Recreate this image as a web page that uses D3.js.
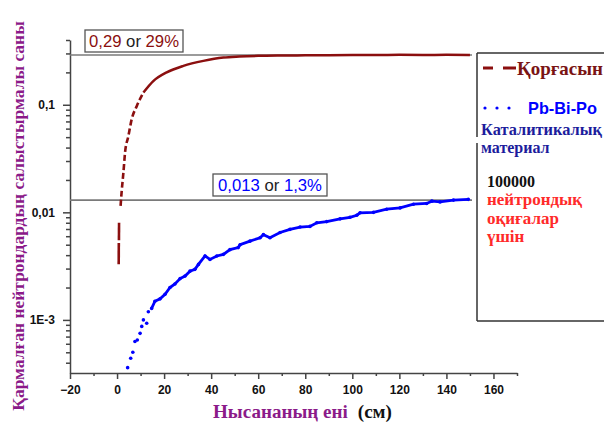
<!DOCTYPE html>
<html>
<head>
<meta charset="utf-8">
<script src="https://cdn.jsdelivr.net/npm/d3@7"></script>
<style>
    body { margin: 0; background: #fff; }
    svg { display: block; }
    .axis path, .axis line { stroke: #444; stroke-width: 1.5; }
    .axis text { font-family: Arial, "Liberation Sans", sans-serif; font-weight: bold; font-size: 12px; fill: #111; }
    .serif { font-family: "Liberation Serif", "Times New Roman", serif; font-weight: bold; }
    .sans { font-family: Arial, "Liberation Sans", sans-serif; }
</style>
</head>
<body>
<svg width="604" height="425"></svg>
<script>
// values
const xTicks = [-20, 0, 20, 40, 60, 80, 100, 120, 140, 160];
const yTicks = [0.001, 0.01, 0.1];
const yTickLabels = ["1E-3", "0,01", "0,1"];
const refValues = [0.29, 0.013];

// Қорғасын (lead): short vertical bit at the start, then the main curve
const leadLow = [[0.7, 0.0033], [0.75, 0.0052], [0.8, 0.0055], [0.85, 0.0080]];
const leadMain = [
    [1.5, 0.0115], [2.0, 0.016], [2.7, 0.0234], [3.4, 0.036], [4.8, 0.051], [6.2, 0.073],
    [8.4, 0.0975], [11.2, 0.13], [15.4, 0.166], [21.1, 0.2], [28.2, 0.23], [36.7, 0.256],
    [45.2, 0.275], [52, 0.281], [60, 0.285], [70, 0.287], [80, 0.288], [90, 0.289],
    [100, 0.29], [110, 0.29], [120, 0.291], [130, 0.29], [140, 0.291], [150, 0.29]
];
// Pb-Bi-Po catalytic material
const pbBiPo = [
    [4.5, 0.00036], [5.8, 0.00044], [6.7, 0.00050], [7.6, 0.00063], [8.6, 0.00065], [9.8, 0.00075],
    [10.5, 0.00087], [11.2, 0.00100], [12.6, 0.00093], [13.3, 0.00119], [14.7, 0.00128], [16.1, 0.00149],
    [18.3, 0.00157], [20.4, 0.00173], [22.5, 0.0020], [24.6, 0.00216], [26.8, 0.00242], [28.9, 0.00256],
    [31, 0.00284], [33.1, 0.00295], [34.6, 0.00328], [37.4, 0.00393], [39.5, 0.00365], [42.4, 0.00393],
    [45.2, 0.00407], [48, 0.0045], [51.5, 0.0047], [52.3, 0.0050], [56.5, 0.0054], [60.8, 0.0058],
    [62.2, 0.0062], [65, 0.0058], [69.3, 0.0065], [73.5, 0.00695], [77.8, 0.0073], [82, 0.0074],
    [84.9, 0.0080], [89.1, 0.0082], [94.8, 0.0087], [99, 0.0090], [101.9, 0.0094], [103.3, 0.0099],
    [109, 0.0100], [114.6, 0.0107], [120.3, 0.0110], [126, 0.0119], [131.6, 0.0121], [133.8, 0.0127],
    [137.3, 0.0125], [143, 0.0130], [149.3, 0.0132]
];

const red = "#8b0f0f", blue = "#0000ff", purple = "#8b1a89";
const svg = d3.select("svg");

// scale a text's font size so it spans the width seen in the reference
function fit(sel, width) {
    const size = parseFloat(sel.style("font-size"));
    const len = sel.node().getComputedTextLength();
    if (len > 0) sel.style("font-size", (size * width / len).toFixed(2) + "px");
    return sel;
}

// plot area
const x = d3.scaleLinear().domain([-20, 170]).range([70, 517]);
const y = d3.scaleLog().domain([0.000321, 0.4]).range([373, 40]);

// minor ticks first, then the labelled axes
const xMinor = d3.range(-10, 171, 20);
svg.append("g")
    .attr("class", "axis")
    .attr("transform", "translate(0,373)")
    .call(d3.axisBottom(x).tickValues(xMinor).tickSize(3).tickFormat(""))
    .select(".domain").remove();
const yMinor = y.ticks().filter(v => !yTicks.some(t => Math.abs(t - v) < t * 1e-6));
svg.append("g")
    .attr("class", "axis")
    .attr("transform", "translate(70,0)")
    .call(d3.axisLeft(y).tickValues(yMinor).tickSize(4).tickFormat(""))
    .select(".domain").remove();

svg.append("g")
    .attr("class", "axis")
    .attr("transform", "translate(0,373)")
    .call(d3.axisBottom(x).tickValues(xTicks).tickSize(6).tickSizeOuter(0).tickPadding(6));
svg.append("g")
    .attr("class", "axis")
    .attr("transform", "translate(70,0)")
    .call(d3.axisLeft(y).tickValues(yTicks).tickSize(7).tickSizeOuter(0).tickPadding(8)
        .tickFormat((d, i) => yTickLabels[i]));

// reference lines
svg.selectAll(".ref")
    .data(refValues)
    .enter().append("line")
    .attr("class", "ref")
    .attr("x1", x(-20)).attr("x2", 472)
    .attr("y1", d => y(d)).attr("y2", d => y(d))
    .attr("stroke", "#7a7a7a").attr("stroke-width", 1.6);

// lead series
const line = d3.line().x(d => x(d[0])).y(d => y(d[1])).curve(d3.curveMonotoneX);
const straight = d3.line().x(d => x(d[0])).y(d => y(d[1]));
svg.append("path")
    .attr("d", straight(leadLow.slice(0, 2)))
    .attr("fill", "none").attr("stroke", red).attr("stroke-width", 2.6);
svg.append("path")
    .attr("d", straight(leadLow.slice(2)))
    .attr("fill", "none").attr("stroke", red).attr("stroke-width", 2.6);
svg.append("path")
    .attr("d", line(leadMain.filter(d => d[0] <= 11.2)))
    .attr("fill", "none").attr("stroke", red).attr("stroke-width", 2.6)
    .attr("stroke-dasharray", "6,3");
svg.append("path")
    .attr("d", line(leadMain.filter(d => d[0] >= 11.2)))
    .attr("fill", "none").attr("stroke", red).attr("stroke-width", 2.5);

// Pb-Bi-Po series
svg.append("path")
    .attr("d", straight(pbBiPo.filter(d => d[0] >= 14)))
    .attr("fill", "none").attr("stroke", blue).attr("stroke-width", 2.8);
svg.selectAll(".pt")
    .data(pbBiPo)
    .enter().append("circle")
    .attr("class", "pt")
    .attr("cx", d => x(d[0])).attr("cy", d => y(d[1]))
    .attr("r", 1.8).attr("fill", blue);

// value boxes
function valueBox(bx, by, w, h, tw, parts) {
    svg.append("rect")
        .attr("x", bx).attr("y", by).attr("width", w).attr("height", h)
        .attr("fill", "#fff").attr("stroke", "#555").attr("stroke-width", 1.3);
    const t = svg.append("text")
        .attr("class", "sans")
        .attr("x", bx + w / 2).attr("y", by + h / 2 + 6)
        .attr("text-anchor", "middle")
        .style("font-size", "16px");
    parts.forEach(p => t.append("tspan").attr("fill", p[1]).text(p[0]));
    fit(t, tw);
}
valueBox(85, 30, 98, 22, 90, [["0,29", red], [" or ", "#222"], ["29%", red]]);
valueBox(213, 174, 114, 22, 104, [["0,013", blue], [" or ", "#222"], ["1,3%", blue]]);

// legend frame (left edge is broken in the reference)
const frame = svg.append("g").attr("stroke", "#333").attr("stroke-width", 1.5);
frame.append("line").attr("x1", 477).attr("x2", 604).attr("y1", 53).attr("y2", 53);
frame.append("line").attr("x1", 477).attr("x2", 604).attr("y1", 321).attr("y2", 321);
frame.append("line").attr("x1", 477).attr("x2", 477).attr("y1", 53).attr("y2", 137);
frame.append("line").attr("x1", 477).attr("x2", 477).attr("y1", 143).attr("y2", 321);

// legend symbols
svg.append("line").attr("x1", 483).attr("x2", 493).attr("y1", 68).attr("y2", 68)
    .attr("stroke", red).attr("stroke-width", 3);
svg.append("line").attr("x1", 503).attr("x2", 516).attr("y1", 68).attr("y2", 68)
    .attr("stroke", red).attr("stroke-width", 3);
svg.selectAll(".ldot")
    .data([485, 497, 509])
    .enter().append("circle")
    .attr("class", "ldot")
    .attr("cx", d => d).attr("cy", 108).attr("r", 1.6).attr("fill", blue);

// legend text: label, x, baseline, colour, family, size (0 = fit to reference width)
const legendText = [
    ["Қорғасын", 517, 75, "#7a1414", "serif", 0, 86],
    ["Pb-Bi-Po", 528, 114, blue, "sans", 0, 69],
    ["Каталитикалық", 481, 135, "#1c1c9c", "serif", 0, 121],
    ["материал", 481, 153, "#1c1c9c", "serif", 16, 0],
    ["100000", 487, 187, "#111", "serif", 16, 0],
    ["нейтрондық", 487, 205, "#ff2a2a", "serif", 17, 0],
    ["оқиғалар", 487, 224, "#ff2a2a", "serif", 17, 0],
    ["үшін", 487, 242, "#ff2a2a", "serif", 17, 0]
];
svg.selectAll(".ltxt")
    .data(legendText)
    .enter().append("text")
    .attr("class", d => "ltxt " + d[4])
    .attr("x", d => d[1]).attr("y", d => d[2])
    .attr("fill", d => d[3])
    .style("font-size", d => (d[5] || 16) + "px")
    .style("font-weight", "bold")
    .text(d => d[0])
    .each(function (d) { if (!d[5]) fit(d3.select(this), d[6]); });

// axis titles
const yt = svg.append("text")
    .attr("class", "serif")
    .attr("transform", "translate(24,216) rotate(-90)")
    .attr("text-anchor", "middle")
    .attr("fill", purple)
    .style("font-size", "17px")
    .text("Қармалған нейтрондардың салыстырмалы саны");
fit(yt, 390);
const xt = svg.append("text")
    .attr("class", "serif")
    .attr("x", 213).attr("y", 418)
    .style("font-size", "18px");
xt.append("tspan").attr("fill", purple).text("Нысананың ені");
xt.append("tspan").attr("fill", "#111").attr("dx", 10).text("(см)");
fit(xt, 169);
</script>
</body>
</html>
